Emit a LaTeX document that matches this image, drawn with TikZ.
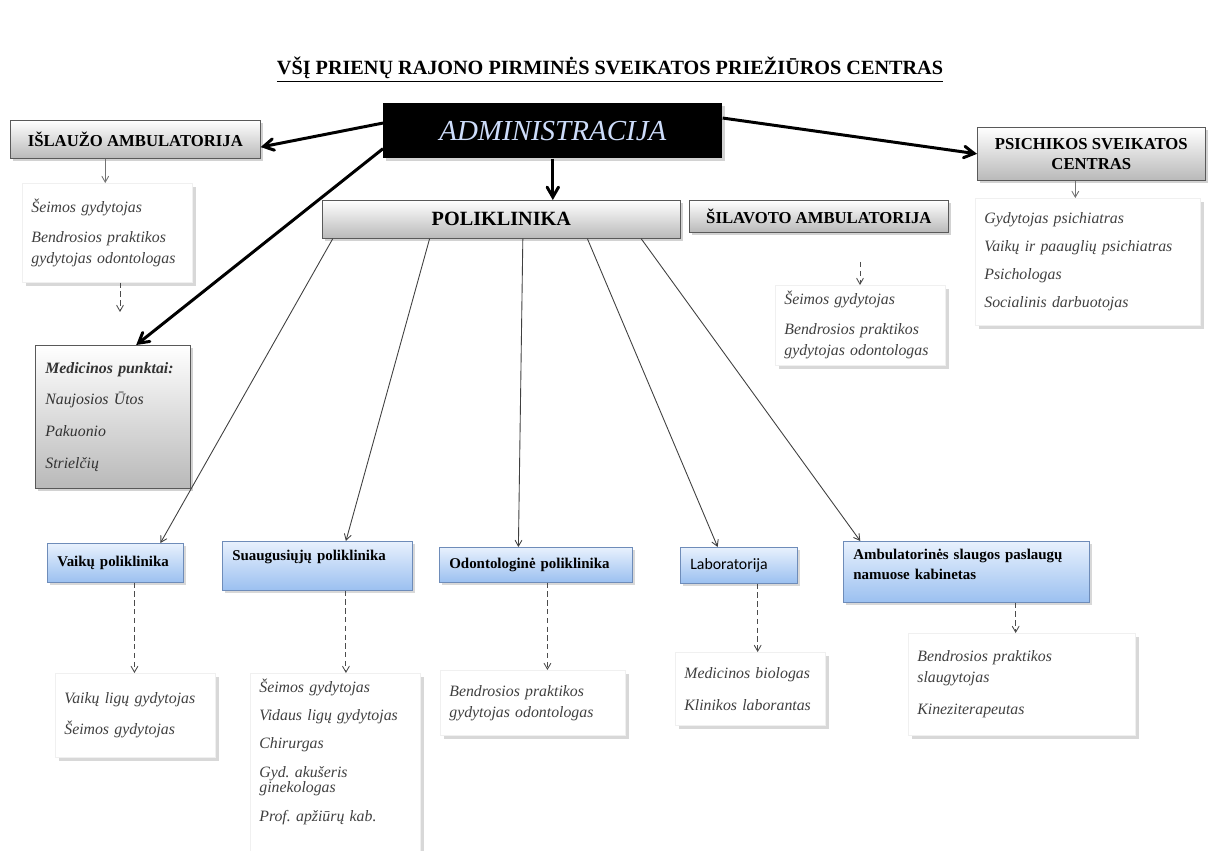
\documentclass[tikz,border=0pt]{standalone}
\usepackage{fontspec}
\setmainfont{Liberation Serif}
\newfontfamily\calibri{Carlito}
\usetikzlibrary{arrows,positioning,calc,shadows}
\definecolor{admintext}{RGB}{205,220,250}
\definecolor{blueedge}{RGB}{110,140,185}
\definecolor{bluetop}{RGB}{232,241,253}
\definecolor{bluebot}{RGB}{155,192,240}
\frenchspacing

\begin{document}
\begin{tikzpicture}[x=0.02cm, y=-0.02cm,
  graybox/.style={draw=gray!70!black, top color=white, bottom color=gray!55, anchor=north west,
    drop shadow={shadow xshift=1.5pt, shadow yshift=-1.5pt, opacity=0.35},
    inner sep=2pt, font=\fontsize{9.5}{11.5}\selectfont\bfseries},
  bluebox/.style={draw=blueedge, top color=bluetop, bottom color=bluebot, anchor=north west,
    drop shadow={shadow xshift=1.5pt, shadow yshift=-1.5pt, opacity=0.3},
    align=left, inner xsep=0.2cm, inner ysep=3pt, font=\fontsize{8.5}{11.3}\selectfont\bfseries},
  listbox/.style={draw=gray!12, fill=white, anchor=north west,
    drop shadow={shadow xshift=2pt, shadow yshift=-2pt, opacity=0.3},
    align=left, inner xsep=0.18cm, text=black!75, font=\fontsize{9}{12}\selectfont\itshape},
  bigarrow/.style={->, >=angle 60, line width=1.7pt},
  thinarrow/.style={->, >=angle 60, draw=black!75, line width=0.5pt},
  dasharrow/.style={->, >=angle 60, draw=black!70, densely dashed, line width=0.5pt}]

\fill[white] (0,0) rectangle (1214,851);
\useasboundingbox (0,0) rectangle (1214,851);

\node[font=\fontsize{11.5}{13}\selectfont\bfseries] (title) at (610,70)
  {\underline{VŠĮ PRIENŲ RAJONO PIRMINĖS SVEIKATOS PRIEŽIŪROS CENTRAS}};

% top level
\node[fill=black, anchor=north west, minimum width=6.78cm, minimum height=1.1cm,
  drop shadow={shadow xshift=1.5pt, shadow yshift=-1.5pt, opacity=0.35},
  text=admintext, font=\fontsize{16.5}{18}\selectfont\itshape] (admin) at (383,103) {ADMINISTRACIJA};
\node[graybox, minimum width=5cm, minimum height=0.76cm] (isl) at (10,120) {IŠLAUŽO AMBULATORIJA};
\node[graybox, minimum width=7.16cm, minimum height=0.76cm, font=\fontsize{11.5}{13}\selectfont\bfseries] (poli) at (322,200) {POLIKLINIKA};
\node[graybox, minimum width=5.18cm, minimum height=0.64cm] (sil) at (689,200) {ŠILAVOTO AMBULATORIJA};
\node[graybox, minimum width=4.56cm, minimum height=1.06cm, align=center] (psi) at (977,127) {PSICHIKOS SVEIKATOS\\CENTRAS};

% staff lists of the top level
\node[listbox, minimum width=3.4cm, minimum height=1.98cm, text width=3.04cm] (islList) at (22,183)
  {Šeimos gydytojas\\[5pt] Bendrosios praktikos\\ gydytojas odontologas};
\node[graybox, minimum width=3.1cm, minimum height=2.86cm, text width=2.7cm, inner xsep=0.2cm, align=left,
  font=\fontsize{9}{12}\selectfont\itshape, text=black!80] (med) at (35,345)
  {\textbf{Medicinos punktai:}\\[6pt] Naujosios Ūtos\\[6pt] Pakuonio\\[6pt] Strielčių};
\node[listbox, minimum width=3.4cm, minimum height=1.44cm, text width=3.04cm] (silList) at (775,285)
  {Šeimos gydytojas\\[5pt] Bendrosios praktikos\\ gydytojas odontologas};
\node[listbox, minimum width=4.5cm, minimum height=2.54cm, text width=4.14cm] (psiList) at (975,198)
  {Gydytojas psichiatras\\[4pt] Vaikų ir paauglių psichiatras\\[4pt] Psichologas\\[4pt] Socialinis darbuotojas};

% departments of the polyclinic
\node[bluebox, minimum width=2.72cm, minimum height=0.78cm, text width=2.32cm] (vaik) at (47,543) {Vaikų poliklinika};
\node[bluebox, minimum width=3.8cm, minimum height=0.98cm, text width=3.4cm, text height=7.5pt, text depth=14pt] (suaug) at (222,541) {Suaugusiųjų poliklinika};
\node[bluebox, minimum width=3.86cm, minimum height=0.7cm, text width=3.46cm] (odont) at (439,547) {Odontologinė poliklinika};
\node[bluebox, minimum width=2.34cm, minimum height=0.72cm, text width=1.94cm, font=\fontsize{9}{11}\selectfont\calibri] (lab) at (680,547) {Laboratorija};
\node[bluebox, minimum width=4.92cm, minimum height=1.22cm, text width=4.52cm, text height=7.5pt, text depth=21pt] (amb) at (843,541)
  {Ambulatorinės slaugos paslaugų\\ namuose kabinetas};

% staff lists of the departments
\node[listbox, minimum width=3.2cm, minimum height=1.68cm, text width=2.84cm] (vaikList) at (55,673)
  {Vaikų ligų gydytojas\\[6pt] Šeimos gydytojas};
\node[listbox, minimum width=3.4cm, minimum height=3.7cm, text width=3.04cm, inner ysep=3pt,
  text height=7.8pt, text depth=91pt] (suaugList) at (250,673)
  {Šeimos gydytojas\\[4pt] Vidaus ligų gydytojas\\[4pt] Chirurgas\\[4pt] Gyd. akušeris\\[-3pt] ginekologas\\[4pt] Prof. apžiūrų kab.};
\node[listbox, minimum width=3.7cm, minimum height=1.3cm, text width=3.34cm] (odontList) at (440,670)
  {Bendrosios praktikos\\ gydytojas odontologas};
\node[listbox, minimum width=3cm, minimum height=1.46cm, text width=2.64cm] (labList) at (675,652)
  {Medicinos biologas\\[6pt] Klinikos laborantas};
\node[listbox, minimum width=4.54cm, minimum height=2.04cm, text width=4.18cm] (ambList) at (908,633)
  {Bendrosios praktikos\\ slaugytojas\\[6pt] Kineziterapeutas};

\coordinate (islEnd) at (120,312);
\coordinate (silStart) at (860,262);

% connectors
\draw[bigarrow] ($(admin.north west)!0.36!(admin.south west)$) -- ($(isl.north east)!0.7!(isl.south east)$);
\draw[bigarrow] ($(admin.north west)!0.82!(admin.south west)$) -- ($(med.north west)!0.65!(med.north east)$);
\draw[bigarrow] (admin.south) -- (admin.south |- poli.north);
\draw[bigarrow] ($(admin.north east)!0.27!(admin.south east)$) -- (psi.west);

\draw[thinarrow, draw=black!55] ($(isl.south west)!0.38!(isl.south east)$) coordinate (a) -- (a |- islList.north);
\draw[dasharrow] (islList.south -| islEnd) -- (islEnd);
\draw[dasharrow] (silStart) -- (silStart |- silList.north);
\draw[thinarrow, draw=black!55] ($(psi.south west)!0.43!(psi.south east)$) coordinate (a) -- (a |- psiList.north);

\foreach \f/\t/\g in {0.03/vaik/0.83, 0.30/suaug/0.65, 0.56/odont/0.41, 0.74/lab/0.32, 0.89/amb/0.07}
  \draw[thinarrow] ($(poli.south west)!\f!(poli.south east)$) -- ($(\t.north west)!\g!(\t.north east)$);

\foreach \s/\t/\f in {vaik/vaikList/0.64, suaug/suaugList/0.65, odont/odontList/0.56, lab/labList/0.66, amb/ambList/0.7}
  \draw[dasharrow] ($(\s.south west)!\f!(\s.south east)$) coordinate (a) -- (a |- \t.north);

\end{tikzpicture}
\end{document}
